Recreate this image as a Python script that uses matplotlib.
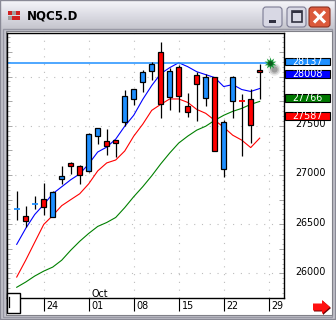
import numpy as np
import matplotlib
matplotlib.use('Agg')
import matplotlib.pyplot as plt
from matplotlib.patches import Rectangle, FancyBboxPatch, Polygon
from matplotlib.colors import LinearSegmentedColormap

# daily candles, 28 sessions
title = 'NQC5.D'
opens = [26658, 26585, 26706, 26759, 26575, 26954, 27122, 27089, 27038, 27399,
         27341, 27351, 27542, 27774, 27945, 28056, 28249, 27792, 28097, 27704,
         28016, 27784, 27996, 27058, 27750, 27750, 27774, 28069]
highs = [26833, 26685, 26786, 26920, 26835, 27095, 27135, 27102, 27431, 27475,
         27465, 27354, 27858, 27875, 28069, 28143, 28352, 28090, 28120, 27828,
         28049, 28029, 28000, 27558, 28002, 27824, 27875, 28127]
lows = [26540, 26474, 26658, 26591, 26570, 26910, 27011, 26910, 27034, 27313,
        27206, 27179, 27498, 27707, 27841, 27962, 27583, 27656, 27643, 27593,
        27548, 27700, 27240, 26978, 27583, 27195, 27323, 27767]
closes = [26658, 26534, 26706, 26675, 26830, 26991, 27089, 27004, 27411, 27472,
          27290, 27327, 27807, 27875, 28049, 28123, 27724, 28059, 27804, 27643,
          27928, 27996, 27246, 27542, 27996, 27740, 27508, 28042]

# moving average lines
ma_blue = [26295, 26457, 26598, 26699, 26809, 26880, 26951, 27011, 27112, 27233,
           27283, 27364, 27495, 27606, 27767, 27908, 28029, 28090, 28140, 28100,
           28049, 28019, 27989, 27898, 27918, 27868, 27848, 27878]
ma_red = [25963, 26134, 26316, 26497, 26588, 26688, 26749, 26809, 26910, 27041,
          27122, 27152, 27243, 27394, 27515, 27656, 27717, 27772, 27772, 27737,
          27666, 27626, 27555, 27485, 27404, 27354, 27278, 27374]
ma_green = [25859, 25912, 25973, 26023, 26064, 26134, 26235, 26326, 26406, 26477,
            26517, 26568, 26668, 26779, 26880, 26991, 27112, 27223, 27324, 27394,
            27455, 27495, 27555, 27606, 27646, 27676, 27717, 27747]

last_price = 28137
date_pos = [3, 8, 13, 18, 23, 28]
date_labels = ['24', '01', '08', '15', '22', '29']
month_pos = 8
month_label = 'Oct'
price_ticks = [26000, 26500, 27000, 27500]
value_boxes = [28137, 28008, 27766, 27587]
box_colors = ['#1e8fff', '#0000ff', '#007800', '#ff0000']

W, H = 336, 320
fig = plt.figure(figsize=(W / 100, H / 100), dpi=100)
fig.patch.set_facecolor('#c6c6ce')

# window chrome in pixel coordinates
bg = fig.add_axes([0, 0, 1, 1])
bg.set_xlim(0, W)
bg.set_ylim(H, 0)
bg.axis('off')
grad = LinearSegmentedColormap.from_list('tb', ['#f6f6fa', '#dcdce4', '#c4c4cc'])
bg.imshow(np.linspace(0, 1, 30)[:, None], extent=[0, W, 30, 0], cmap=grad, aspect='auto', zorder=0)
bg.add_patch(Rectangle((0, 0), W - 1, H - 1, fill=False, ec='#8a8a96', lw=1))
bg.add_patch(Rectangle((3, 29), W - 7, H - 32, fill=False, ec='#9898a4', lw=1))
bg.add_patch(Rectangle((6, 31), 326, 284, fc='white', ec='#808088', lw=0.8, zorder=1))

# icon
for (x, y, c) in [(8, 11, '#d02020'), (12, 11, '#a0a0a0'), (16, 11, '#d02020'),
                  (8, 16, '#a0a0a0'), (12, 16, '#d02020'), (16, 16, '#d02020')]:
    bg.add_patch(Rectangle((x, y), 3.5, 4, fc=c, ec='none', zorder=2))
bg.text(27, 16, title, fontsize=8.5, fontweight='bold', color='black', va='center', ha='left',
        family='DejaVu Sans')

# buttons
for x0 in [263, 287]:
    bg.add_patch(FancyBboxPatch((x0, 7), 19, 20, boxstyle='round,pad=0,rounding_size=3',
                                fc='#d8d8e4', ec='#7c7c94', lw=0.8, zorder=2))
bg.add_patch(Rectangle((269, 20), 7, 2.5, fc='#303040', ec='none', zorder=3))
bg.add_patch(Rectangle((291.5, 11), 10.5, 11, fill=False, ec='#303040', lw=1.2, zorder=3))
bg.add_patch(Rectangle((291.5, 11), 10.5, 2, fc='#303040', ec='none', zorder=3))
bg.add_patch(FancyBboxPatch((309, 7), 21, 20, boxstyle='round,pad=0,rounding_size=3',
                            fc='#dc5a3c', ec='#8c3020', lw=0.8, zorder=2))
bg.plot([314, 325], [11.5, 22.5], color='white', lw=2.2, zorder=3, solid_capstyle='butt')
bg.plot([314, 325], [22.5, 11.5], color='white', lw=2.2, zorder=3, solid_capstyle='butt')

# red arrow bottom right
arrow = [(313, 303.5), (322, 303.5), (322, 300), (330, 307), (322, 314), (322, 310.5), (313, 310.5)]
bg.add_patch(Polygon([(x + 1, y + 1) for x, y in arrow], fc='#700000', ec='none', zorder=2))
bg.add_patch(Polygon(arrow, fc='#ff1010', ec='none', zorder=3))

# main chart
ax = fig.add_axes([7 / W, (H - 298) / H, 277 / W, 265 / H], zorder=2)
ax.set_facecolor('white')
ax.set_xlim(-1.08, 29.7)
ax.set_ylim(25771, 28442)
for s in ax.spines.values():
    s.set_color('black')
    s.set_linewidth(1.0)

for v in [26000, 26500, 27000, 27500, 28000]:
    ax.axhline(v, color='#bdbdbd', lw=0.8, ls=(0, (1, 6)), zorder=0)
for p in date_pos:
    ax.axvline(p, color='#bdbdbd', lw=0.8, ls=(0, (1, 6)), zorder=0)

ax.set_yticks(np.arange(25750, 28500, 250))
ax.set_yticks(np.arange(25750, 28450, 50), minor=True)
ax.tick_params(axis='y', which='major', direction='in', left=True, right=True,
               length=3.6, width=0.7, color='#a8a8a8', labelleft=False, labelright=False)
ax.tick_params(axis='y', which='minor', direction='in', left=True, right=True,
               length=1.8, width=0.7, color='#b8b8b8')
ax.set_xticks(date_pos)
ax.tick_params(axis='x', direction='out', length=9, width=0.8, color='black', labelbottom=False)

xs = np.arange(len(closes))
ax.plot(xs, ma_green, color='#008000', lw=0.8, zorder=2)
ax.plot(xs, ma_red, color='#ff0000', lw=0.8, zorder=2)
ax.plot(xs, ma_blue, color='#0000ff', lw=0.8, zorder=2)

ax.plot([-1.08, 28.1], [last_price, last_price], color='#1e8fff', lw=1.1, zorder=2)

for i in xs:
    o, h, l, c = opens[i], highs[i], lows[i], closes[i]
    col = '#1e8fff' if c >= o else '#ff0000'
    ax.vlines(i, l, h, color='black', lw=0.9, zorder=3)
    if abs(c - o) < 15:
        ax.hlines(o, i - 0.32, i + 0.32, color=col, lw=1.3, zorder=4)
    else:
        ax.add_patch(Rectangle((i - 0.28, min(o, c)), 0.56, abs(c - o),
                               fc=col, ec='black', lw=0.9, zorder=4))

# glowing marker at the last price
for r, a in [(80, 0.12), (45, 0.2), (20, 0.3)]:
    ax.scatter([28.55], [last_price - 60], s=r, color='#404040', alpha=a, lw=0, zorder=5)
ax.scatter([28.1], [last_price], s=80, marker=(10, 1, 0), color='#1a9a3a', lw=0, zorder=6)
ax.scatter([28.1], [last_price], s=12, color='#0c5a1e', lw=0, zorder=7)

# price axis labels
ytr = ax.get_yaxis_transform()
for v in price_ticks:
    ax.text(1.041, v + 15, str(v), transform=ytr, fontsize=6.9, ha='left', va='center',
            color='black', clip_on=False)
for v, col in zip(value_boxes, box_colors):
    ax.add_patch(Rectangle((1.0036, v + 15 - 40), 0.1625, 80, transform=ytr, fc=col,
                           ec='black', lw=0.8, clip_on=False, zorder=5))
    ax.text(1.085, v + 15, str(v), transform=ytr, fontsize=6.9, ha='center', va='center',
            color='white', clip_on=False, zorder=6)

# date axis labels
xtr = ax.get_xaxis_transform()
for p, lab in zip(date_pos, date_labels):
    ax.text(p + 0.33, -0.029, lab, transform=xtr, fontsize=6.9, ha='left', va='center',
            clip_on=False)
ax.text(month_pos + 0.3, 0.014, month_label, transform=xtr, fontsize=6.9, ha='left',
        va='center', clip_on=False)

# scroll thumb bottom left
bg2 = fig.add_axes([0, 0, 1, 1], zorder=3)
bg2.set_xlim(0, W)
bg2.set_ylim(H, 0)
bg2.axis('off')
bg2.add_patch(Rectangle((7, 293), 12.5, 20, fc='white', ec='black', lw=1))
bg2.plot([9.3, 9.3], [297, 307], color='black', lw=0.9)

fig.savefig('out.png', dpi=100)
